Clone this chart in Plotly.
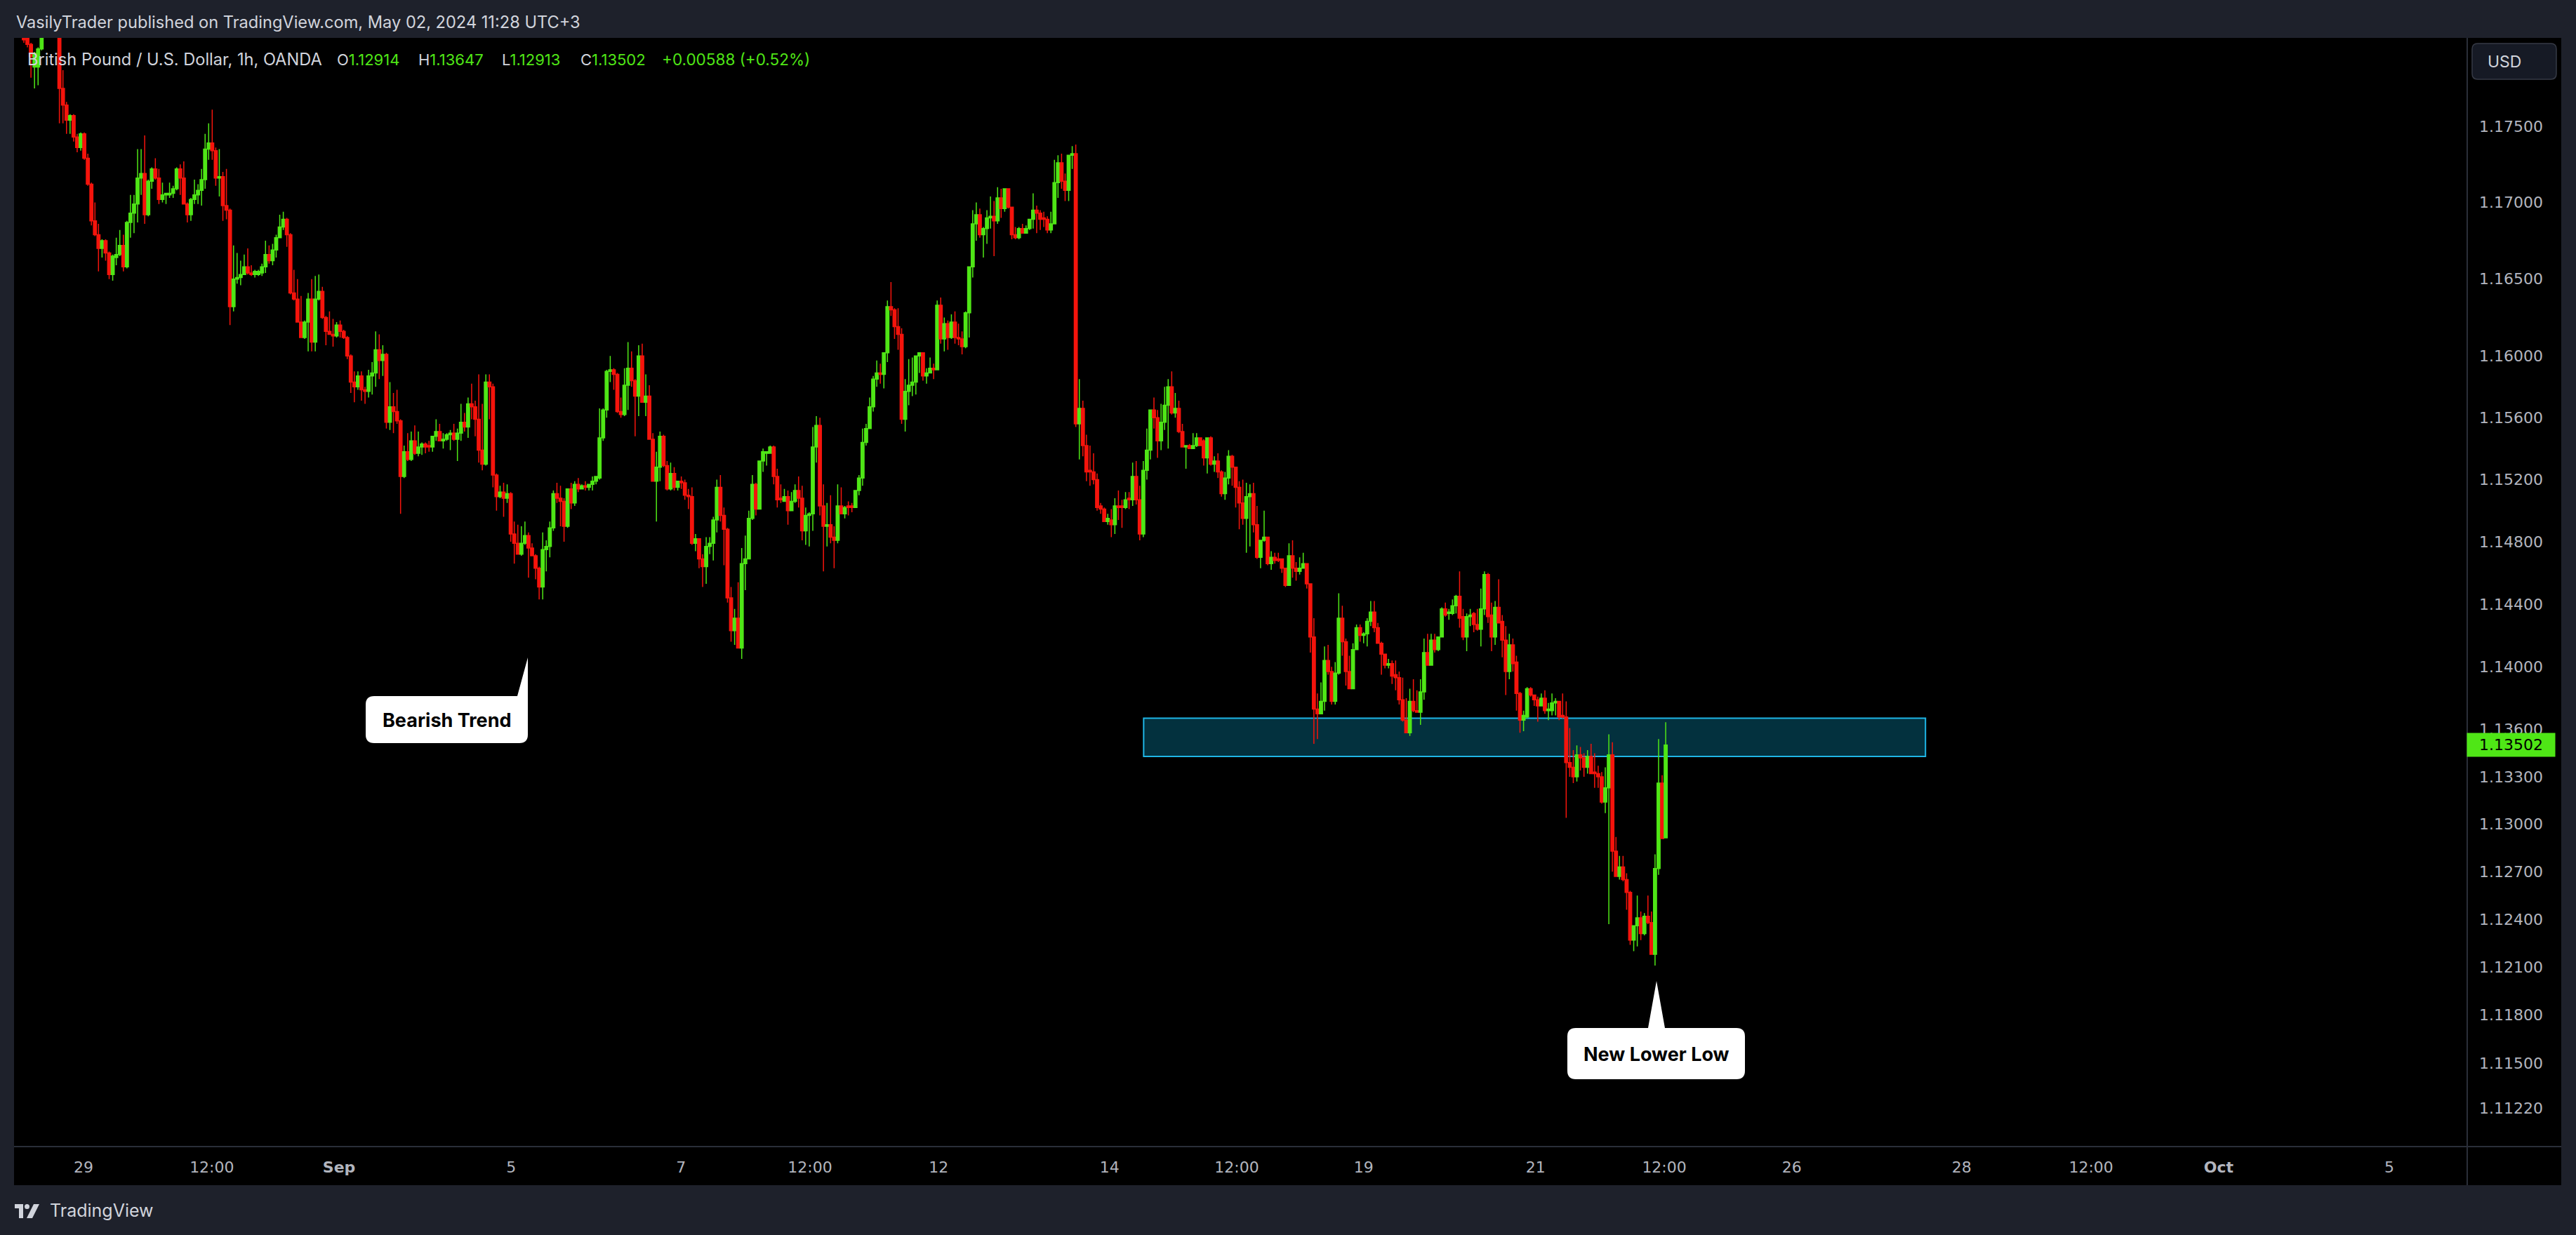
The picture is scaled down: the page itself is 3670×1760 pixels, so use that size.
import math
import plotly.graph_objects as go

# ---------------- data ----------------
opens = [
 1.1815,1.1812,1.1804,1.1789,1.1789,1.1801,1.1812,1.1822,1.1818,1.1820,
 1.1815,1.1775,1.1764,1.1754,1.1757,1.1743,1.1736,1.1745,1.1729,1.1712,
 1.1688,1.1679,1.1670,1.1675,1.1667,1.1653,1.1664,1.1666,1.1672,1.1658,
 1.1687,1.1693,1.1699,1.1716,1.1719,1.1692,1.1714,1.1722,1.1716,1.1702,
 1.1705,1.1705,1.1706,1.1709,1.1722,1.1716,1.1699,1.1692,1.1702,1.1705,
 1.1708,1.1715,1.1735,1.1739,1.1734,1.1716,1.1717,1.1698,1.1695,1.1632,
 1.1650,1.1651,1.1653,1.1658,1.1654,1.1653,1.1653,1.1654,1.1658,1.1666,
 1.1662,1.1669,1.1677,1.1684,1.1689,1.1679,1.1641,1.1637,1.1622,1.1612,
 1.1622,1.1637,1.1609,1.1637,1.1642,1.1625,1.1616,1.1614,1.1613,1.1620,
 1.1616,1.1612,1.1600,1.1583,1.1580,1.1587,1.1578,1.1577,1.1587,1.1589,
 1.1604,1.1597,1.1601,1.1557,1.1567,1.1564,1.1558,1.1522,1.1538,1.1533,
 1.1545,1.1537,1.1541,1.1543,1.1542,1.1541,1.1548,1.1551,1.1545,1.1546,
 1.1549,1.1550,1.1546,1.1550,1.1557,1.1554,1.1569,1.1567,1.1559,1.1539,
 1.1530,1.1583,1.1580,1.1523,1.1509,1.1512,1.1508,1.1511,1.1485,1.1479,
 1.1472,1.1479,1.1484,1.1476,1.1471,1.1463,1.1451,1.1475,1.1477,1.1489,
 1.1511,1.1508,1.1506,1.1490,1.1514,1.1505,1.1517,1.1514,1.1516,1.1515,
 1.1517,1.1519,1.1521,1.1547,1.1565,1.1590,1.1591,1.1588,1.1564,1.1562,
 1.1581,1.1592,1.1584,1.1574,1.1600,1.1570,1.1574,1.1546,1.1519,1.1528,
 1.1548,1.1529,1.1514,1.1524,1.1515,1.1519,1.1518,1.1510,1.1509,1.1479,
 1.1482,1.1469,1.1464,1.1477,1.1479,1.1494,1.1515,1.1497,1.1488,1.1444,
 1.1423,1.1431,1.1412,1.1466,1.1469,1.1495,1.1517,1.1501,1.1532,1.1537,
 1.1537,1.1541,1.1522,1.1508,1.1506,1.1509,1.1500,1.1506,1.1513,1.1508,
 1.1487,1.1497,1.1498,1.1541,1.1555,1.1503,1.1490,1.1491,1.1483,1.1481,
 1.1503,1.1498,1.1503,1.1503,1.1502,1.1513,1.1521,1.1544,1.1553,1.1567,
 1.1585,1.1589,1.1588,1.1602,1.1632,1.1630,1.1619,1.1614,1.1559,1.1577,
 1.1581,1.1583,1.1600,1.1602,1.1587,1.1589,1.1592,1.1591,1.1633,1.1611,
 1.1621,1.1612,1.1622,1.1612,1.1611,1.1606,1.1628,1.1658,1.1686,1.1692,
 1.1679,1.1683,1.1690,1.1691,1.1688,1.1703,1.1696,1.1709,1.1697,1.1679,
 1.1677,1.1683,1.1680,1.1683,1.1689,1.1695,1.1693,1.1690,1.1689,1.1682,
 1.1686,1.1713,1.1726,1.1714,1.1708,1.1731,1.1732,1.1556,1.1566,1.1542,
 1.1526,1.1525,1.1520,1.1503,1.1501,1.1493,1.1494,1.1491,1.1503,1.1503,
 1.1502,1.1508,1.1507,1.1522,1.1507,1.1485,1.1526,1.1539,1.1565,1.1560,
 1.1545,1.1557,1.1568,1.1580,1.1563,1.1566,1.1551,1.1541,1.1542,1.1540,
 1.1542,1.1547,1.1545,1.1534,1.1547,1.1530,1.1532,1.1525,1.1511,1.1521,
 1.1535,1.1528,1.1515,1.1505,1.1495,1.1509,1.1511,1.1491,1.1470,1.1481,
 1.1483,1.1466,1.1470,1.1469,1.1469,1.1463,1.1452,1.1471,1.1463,1.1461,
 1.1463,1.1466,1.1453,1.1419,1.1373,1.1370,1.1378,1.1404,1.1397,1.1378,
 1.1396,1.1431,1.1416,1.1397,1.1386,1.1411,1.1425,1.1420,1.1421,1.1429,
 1.1435,1.1425,1.1415,1.1408,1.1401,1.1402,1.1395,1.1393,1.1379,1.1366,
 1.1358,1.1378,1.1372,1.1371,1.1384,1.1409,1.1401,1.1417,1.1411,1.1419,
 1.1437,1.1434,1.1434,1.1439,1.1445,1.1432,1.1419,1.1432,1.1434,1.1427,
 1.1424,1.1437,1.1459,1.1433,1.1419,1.1438,1.1429,1.1417,1.1397,1.1414,
 1.1403,1.1383,1.1366,1.1368,1.1386,1.1382,1.1379,1.1375,1.1380,1.1372,
 1.1372,1.1377,1.1378,1.1369,1.1368,1.1339,1.1336,1.1330,1.1344,1.1342,
 1.1336,1.1343,1.1333,1.1332,1.1330,1.1314,1.1323,1.1344,1.1283,1.1267,
 1.1273,1.1265,1.1257,1.1227,1.1236,1.1241,1.1231,1.1242,1.1238,1.1218,
 1.1272,1.1326,1.12914,
]
highs = [
 1.1820,1.1816,1.1805,1.1799,1.1802,1.1818,1.1826,1.1830,1.1824,1.1823,
 1.1818,1.1787,1.1766,1.1758,1.1758,1.1745,1.1746,1.1746,1.1732,1.1713,
 1.1700,1.1686,1.1676,1.1676,1.1668,1.1666,1.1677,1.1682,1.1679,1.1688,
 1.1705,1.1705,1.1735,1.1735,1.1744,1.1715,1.1723,1.1729,1.1722,1.1713,
 1.1706,1.1713,1.1711,1.1723,1.1725,1.1727,1.1700,1.1703,1.1715,1.1712,
 1.1722,1.1745,1.1752,1.1761,1.1736,1.1735,1.1720,1.1722,1.1696,1.1672,
 1.1667,1.1662,1.1666,1.1670,1.1659,1.1656,1.1656,1.1660,1.1675,1.1672,
 1.1673,1.1679,1.1692,1.1694,1.1690,1.1680,1.1656,1.1650,1.1639,1.1623,
 1.1641,1.1650,1.1652,1.1653,1.1645,1.1626,1.1629,1.1624,1.1622,1.1623,
 1.1617,1.1613,1.1601,1.1590,1.1590,1.1590,1.1580,1.1591,1.1596,1.1616,
 1.1614,1.1607,1.1602,1.1583,1.1576,1.1578,1.1559,1.1542,1.1550,1.1551,
 1.1555,1.1551,1.1544,1.1544,1.1545,1.1548,1.1559,1.1556,1.1550,1.1550,
 1.1552,1.1556,1.1553,1.1569,1.1563,1.1573,1.1582,1.1571,1.1588,1.1569,
 1.1588,1.1588,1.1582,1.1524,1.1516,1.1518,1.1517,1.1512,1.1493,1.1491,
 1.1490,1.1493,1.1486,1.1479,1.1472,1.1464,1.1486,1.1481,1.1493,1.1513,
 1.1518,1.1516,1.1508,1.1514,1.1518,1.1519,1.1521,1.1517,1.1519,1.1517,
 1.1522,1.1522,1.1566,1.1566,1.1591,1.1600,1.1592,1.1589,1.1573,1.1592,
 1.1609,1.1603,1.1585,1.1607,1.1608,1.1588,1.1581,1.1550,1.1538,1.1551,
 1.1549,1.1532,1.1531,1.1528,1.1519,1.1522,1.1520,1.1514,1.1515,1.1485,
 1.1482,1.1472,1.1483,1.1483,1.1496,1.1520,1.1523,1.1502,1.1489,1.1451,
 1.1437,1.1454,1.1476,1.1484,1.1500,1.1523,1.1518,1.1532,1.1540,1.1538,
 1.1542,1.1542,1.1527,1.1517,1.1514,1.1513,1.1512,1.1517,1.1522,1.1516,
 1.1502,1.1499,1.1554,1.1561,1.1560,1.1517,1.1505,1.1510,1.1490,1.1517,
 1.1515,1.1503,1.1506,1.1505,1.1513,1.1523,1.1553,1.1556,1.1573,1.1587,
 1.1597,1.1595,1.1602,1.1636,1.1648,1.1631,1.1631,1.1618,1.1585,1.1598,
 1.1599,1.1600,1.1602,1.1602,1.1592,1.1599,1.1595,1.1636,1.1638,1.1625,
 1.1623,1.1627,1.1629,1.1621,1.1616,1.1629,1.1658,1.1695,1.1700,1.1696,
 1.1684,1.1695,1.1704,1.1701,1.1710,1.1709,1.1709,1.1709,1.1697,1.1684,
 1.1684,1.1686,1.1685,1.1689,1.1706,1.1698,1.1695,1.1694,1.1691,1.1694,
 1.1728,1.1731,1.1732,1.1719,1.1731,1.1737,1.1738,1.1585,1.1571,1.1549,
 1.1542,1.1537,1.1524,1.1505,1.1502,1.1498,1.1501,1.1508,1.1513,1.1507,
 1.1512,1.1512,1.1531,1.1532,1.1516,1.1532,1.1553,1.1565,1.1573,1.1565,
 1.1569,1.1580,1.1585,1.1590,1.1576,1.1571,1.1556,1.1542,1.1543,1.1550,
 1.1550,1.1547,1.1546,1.1547,1.1548,1.1535,1.1537,1.1526,1.1525,1.1539,
 1.1536,1.1528,1.1519,1.1520,1.1518,1.1517,1.1518,1.1503,1.1481,1.1500,
 1.1483,1.1474,1.1473,1.1473,1.1469,1.1463,1.1479,1.1481,1.1467,1.1470,
 1.1473,1.1466,1.1453,1.1431,1.1383,1.1390,1.1413,1.1414,1.1400,1.1403,
 1.1447,1.1439,1.1418,1.1407,1.1415,1.1427,1.1427,1.1422,1.1431,1.1442,
 1.1442,1.1428,1.1416,1.1408,1.1405,1.1404,1.1404,1.1397,1.1393,1.1380,
 1.1386,1.1392,1.1385,1.1392,1.1418,1.1421,1.1421,1.1421,1.1419,1.1438,
 1.1441,1.1437,1.1443,1.1446,1.1461,1.1437,1.1434,1.1437,1.1435,1.1437,
 1.1450,1.1461,1.1460,1.1441,1.1442,1.1456,1.1433,1.1426,1.1421,1.1418,
 1.1407,1.1384,1.1372,1.1387,1.1387,1.1382,1.1381,1.1383,1.1385,1.1377,
 1.1383,1.1380,1.1378,1.1383,1.1378,1.1361,1.1347,1.1350,1.1349,1.1345,
 1.1347,1.1351,1.1345,1.1337,1.1333,1.1336,1.1357,1.1352,1.1292,1.1280,
 1.1280,1.1269,1.1258,1.1236,1.1255,1.1245,1.1244,1.1255,1.1245,1.1281,
 1.1354,1.1331,1.13647,
]
lows = [
 1.1805,1.1802,1.1782,1.1775,1.1777,1.1800,1.1811,1.1815,1.1813,1.1812,
 1.1752,1.1752,1.1745,1.1745,1.1740,1.1733,1.1734,1.1728,1.1711,1.1685,
 1.1678,1.1655,1.1664,1.1662,1.1650,1.1649,1.1659,1.1665,1.1655,1.1657,
 1.1677,1.1680,1.1687,1.1705,1.1686,1.1691,1.1709,1.1715,1.1699,1.1700,
 1.1699,1.1703,1.1703,1.1708,1.1705,1.1699,1.1687,1.1688,1.1699,1.1699,
 1.1698,1.1709,1.1728,1.1728,1.1711,1.1704,1.1688,1.1689,1.1620,1.1629,
 1.1647,1.1646,1.1653,1.1653,1.1652,1.1651,1.1652,1.1652,1.1654,1.1660,
 1.1659,1.1664,1.1677,1.1682,1.1671,1.1640,1.1636,1.1622,1.1612,1.1611,
 1.1603,1.1603,1.1603,1.1636,1.1624,1.1607,1.1614,1.1606,1.1612,1.1612,
 1.1611,1.1598,1.1576,1.1570,1.1578,1.1571,1.1569,1.1573,1.1575,1.1580,
 1.1585,1.1587,1.1553,1.1552,1.1550,1.1556,1.1498,1.1521,1.1532,1.1532,
 1.1536,1.1535,1.1536,1.1537,1.1538,1.1538,1.1545,1.1545,1.1540,1.1545,
 1.1539,1.1545,1.1532,1.1545,1.1551,1.1547,1.1559,1.1548,1.1531,1.1526,
 1.1529,1.1559,1.1515,1.1500,1.1508,1.1496,1.1505,1.1480,1.1466,1.1472,
 1.1471,1.1478,1.1457,1.1471,1.1456,1.1443,1.1443,1.1461,1.1470,1.1487,
 1.1505,1.1490,1.1480,1.1489,1.1501,1.1503,1.1512,1.1514,1.1513,1.1513,
 1.1513,1.1517,1.1520,1.1545,1.1560,1.1583,1.1578,1.1563,1.1560,1.1561,
 1.1565,1.1580,1.1548,1.1561,1.1570,1.1561,1.1546,1.1519,1.1493,1.1519,
 1.1528,1.1513,1.1513,1.1513,1.1513,1.1514,1.1507,1.1501,1.1478,1.1474,
 1.1463,1.1451,1.1453,1.1472,1.1468,1.1486,1.1493,1.1465,1.1441,1.1416,
 1.1414,1.1412,1.1405,1.1449,1.1469,1.1494,1.1497,1.1501,1.1525,1.1529,
 1.1537,1.1517,1.1502,1.1505,1.1506,1.1491,1.1500,1.1505,1.1502,1.1481,
 1.1478,1.1477,1.1487,1.1531,1.1497,1.1461,1.1477,1.1479,1.1463,1.1479,
 1.1498,1.1495,1.1497,1.1499,1.1502,1.1510,1.1516,1.1542,1.1553,1.1564,
 1.1580,1.1582,1.1579,1.1596,1.1626,1.1611,1.1604,1.1556,1.1551,1.1568,
 1.1574,1.1575,1.1589,1.1584,1.1582,1.1589,1.1585,1.1591,1.1608,1.1603,
 1.1604,1.1611,1.1608,1.1607,1.1601,1.1605,1.1612,1.1651,1.1675,1.1677,
 1.1664,1.1673,1.1683,1.1665,1.1686,1.1690,1.1694,1.1696,1.1676,1.1676,
 1.1676,1.1680,1.1680,1.1682,1.1683,1.1680,1.1682,1.1684,1.1680,1.1680,
 1.1686,1.1703,1.1709,1.1701,1.1701,1.1722,1.1554,1.1533,1.1535,1.1519,
 1.1516,1.1517,1.1500,1.1498,1.1493,1.1491,1.1483,1.1485,1.1494,1.1489,
 1.1501,1.1501,1.1503,1.1504,1.1481,1.1483,1.1520,1.1533,1.1553,1.1534,
 1.1539,1.1552,1.1540,1.1562,1.1560,1.1550,1.1541,1.1527,1.1540,1.1540,
 1.1541,1.1542,1.1529,1.1524,1.1529,1.1525,1.1521,1.1509,1.1507,1.1517,
 1.1516,1.1502,1.1488,1.1491,1.1473,1.1477,1.1486,1.1469,1.1463,1.1480,
 1.1465,1.1462,1.1466,1.1467,1.1460,1.1451,1.1452,1.1457,1.1455,1.1459,
 1.1463,1.1450,1.1409,1.1351,1.1354,1.1370,1.1372,1.1395,1.1376,1.1376,
 1.1395,1.1407,1.1388,1.1386,1.1386,1.1411,1.1416,1.1415,1.1413,1.1426,
 1.1422,1.1415,1.1395,1.1399,1.1399,1.1389,1.1385,1.1376,1.1365,1.1358,
 1.1356,1.1371,1.1371,1.1363,1.1379,1.1401,1.1401,1.1409,1.1410,1.1419,
 1.1432,1.1430,1.1433,1.1434,1.1425,1.1417,1.1410,1.1426,1.1422,1.1423,
 1.1413,1.1433,1.1428,1.1410,1.1414,1.1428,1.1406,1.1382,1.1392,1.1397,
 1.1372,1.1358,1.1359,1.1367,1.1381,1.1375,1.1365,1.1375,1.1370,1.1366,
 1.1369,1.1369,1.1366,1.1367,1.1304,1.1330,1.1326,1.1327,1.1334,1.1330,
 1.1332,1.1332,1.1323,1.1323,1.1313,1.1307,1.1237,1.1270,1.1267,1.1265,
 1.1264,1.1246,1.1224,1.1220,1.1223,1.1227,1.1230,1.1237,1.1218,1.1211,
 1.1268,1.1291,1.12913,
]
closes = [
 1.1807,1.1804,1.1796,1.1798,1.1801,1.1812,1.1822,1.1818,1.1820,1.1815,
 1.1775,1.1764,1.1754,1.1757,1.1743,1.1736,1.1745,1.1729,1.1712,1.1688,
 1.1679,1.1670,1.1675,1.1667,1.1653,1.1665,1.1666,1.1672,1.1658,1.1687,
 1.1693,1.1699,1.1716,1.1719,1.1692,1.1714,1.1722,1.1716,1.1702,1.1705,
 1.1706,1.1706,1.1709,1.1722,1.1716,1.1699,1.1692,1.1702,1.1705,1.1708,
 1.1715,1.1735,1.1739,1.1734,1.1716,1.1717,1.1698,1.1695,1.1632,1.1650,
 1.1651,1.1653,1.1658,1.1654,1.1653,1.1655,1.1655,1.1658,1.1666,1.1662,
 1.1669,1.1677,1.1684,1.1689,1.1679,1.1641,1.1637,1.1622,1.1612,1.1622,
 1.1637,1.1609,1.1637,1.1642,1.1625,1.1616,1.1614,1.1613,1.1620,1.1616,
 1.1612,1.1600,1.1583,1.1580,1.1587,1.1578,1.1577,1.1587,1.1589,1.1604,
 1.1597,1.1601,1.1557,1.1567,1.1564,1.1558,1.1522,1.1538,1.1533,1.1545,
 1.1537,1.1541,1.1543,1.1541,1.1541,1.1548,1.1551,1.1545,1.1546,1.1549,
 1.1550,1.1546,1.1550,1.1557,1.1554,1.1569,1.1567,1.1559,1.1539,1.1530,
 1.1583,1.1580,1.1523,1.1509,1.1512,1.1508,1.1511,1.1485,1.1479,1.1472,
 1.1479,1.1484,1.1476,1.1471,1.1463,1.1451,1.1475,1.1477,1.1489,1.1511,
 1.1508,1.1506,1.1490,1.1514,1.1505,1.1517,1.1514,1.1516,1.1515,1.1517,
 1.1519,1.1522,1.1547,1.1565,1.1590,1.1591,1.1588,1.1564,1.1562,1.1581,
 1.1592,1.1584,1.1574,1.1600,1.1570,1.1574,1.1546,1.1519,1.1528,1.1548,
 1.1529,1.1514,1.1524,1.1515,1.1519,1.1518,1.1510,1.1509,1.1479,1.1482,
 1.1469,1.1464,1.1477,1.1479,1.1494,1.1515,1.1497,1.1488,1.1444,1.1423,
 1.1431,1.1412,1.1466,1.1469,1.1495,1.1517,1.1501,1.1532,1.1538,1.1538,
 1.1541,1.1522,1.1507,1.1507,1.1509,1.1500,1.1506,1.1513,1.1508,1.1487,
 1.1497,1.1498,1.1541,1.1555,1.1503,1.1490,1.1491,1.1483,1.1481,1.1503,
 1.1498,1.1502,1.1502,1.1502,1.1513,1.1521,1.1544,1.1553,1.1567,1.1585,
 1.1589,1.1588,1.1602,1.1632,1.1630,1.1619,1.1614,1.1559,1.1577,1.1581,
 1.1583,1.1600,1.1602,1.1587,1.1589,1.1592,1.1591,1.1633,1.1611,1.1621,
 1.1612,1.1622,1.1612,1.1611,1.1606,1.1628,1.1658,1.1686,1.1692,1.1679,
 1.1683,1.1690,1.1691,1.1688,1.1703,1.1696,1.1709,1.1697,1.1679,1.1677,
 1.1683,1.1680,1.1683,1.1689,1.1695,1.1693,1.1689,1.1689,1.1682,1.1686,
 1.1713,1.1726,1.1714,1.1708,1.1731,1.1732,1.1556,1.1566,1.1542,1.1525,
 1.1525,1.1520,1.1502,1.1501,1.1493,1.1495,1.1491,1.1503,1.1502,1.1502,
 1.1507,1.1507,1.1522,1.1507,1.1485,1.1526,1.1539,1.1565,1.1560,1.1545,
 1.1557,1.1568,1.1580,1.1563,1.1566,1.1551,1.1541,1.1542,1.1540,1.1542,
 1.1547,1.1542,1.1534,1.1547,1.1530,1.1532,1.1525,1.1511,1.1521,1.1535,
 1.1528,1.1515,1.1505,1.1495,1.1509,1.1511,1.1491,1.1470,1.1481,1.1483,
 1.1466,1.1470,1.1468,1.1468,1.1463,1.1452,1.1471,1.1463,1.1461,1.1463,
 1.1466,1.1453,1.1419,1.1373,1.1370,1.1378,1.1404,1.1397,1.1378,1.1396,
 1.1431,1.1416,1.1397,1.1386,1.1411,1.1425,1.1420,1.1421,1.1429,1.1435,
 1.1425,1.1415,1.1408,1.1401,1.1402,1.1394,1.1393,1.1379,1.1366,1.1358,
 1.1378,1.1372,1.1371,1.1384,1.1409,1.1401,1.1417,1.1411,1.1419,1.1437,
 1.1433,1.1435,1.1439,1.1445,1.1431,1.1419,1.1432,1.1433,1.1427,1.1424,
 1.1437,1.1459,1.1432,1.1419,1.1438,1.1428,1.1417,1.1397,1.1414,1.1402,
 1.1383,1.1366,1.1369,1.1386,1.1382,1.1379,1.1375,1.1380,1.1372,1.1373,
 1.1377,1.1378,1.1368,1.1368,1.1339,1.1336,1.1330,1.1344,1.1342,1.1336,
 1.1343,1.1332,1.1332,1.1330,1.1314,1.1323,1.1344,1.1283,1.1267,1.1273,
 1.1265,1.1257,1.1227,1.1236,1.1241,1.1231,1.1242,1.1238,1.1218,1.1272,
 1.1326,1.1291,1.13502,
]

price_ticks = [1.175, 1.17, 1.165, 1.16, 1.156, 1.152, 1.148, 1.144, 1.14,
               1.136, 1.133, 1.13, 1.127, 1.124, 1.121, 1.118, 1.115, 1.1122]
time_tick_bars = [16.8, 52.9, 88.7, 137.1, 184.9, 221.2, 257.4, 305.5, 341.3,
                  377.0, 425.4, 461.6, 497.5, 545.3, 581.7, 617.6, 665.6]
time_tick_labels = ["29", "12:00", "<b>Sep</b>", "5", "7", "12:00", "12", "14", "12:00",
                    "19", "21", "12:00", "26", "28", "12:00", "<b>Oct</b>", "5"]
zone_top = 1.13672
zone_bottom = 1.13430
zone_start_bar = 315.1
zone_end_bar = 535.1

# ---------------- styling ----------------
W, H = 3670, 1760
PL, PR, PT, PB = 20, 3515, 54, 1634      # plot area in pixels
FRAME = "#1e212b"
GREEN = "#4fe616"
RED = "#f5140c"
AXIS_TXT = "#b2b5be"
LIGHT_TXT = "#d1d4dc"
SEP = "#2a2e39"
FONT = "Inter, Roboto, sans-serif"
AXIS_FONT = "DejaVu Sans, Inter, sans-serif"


def px_x(x):
    return (x - PL) / (PR - PL)


def px_y(y):
    return (PB - y) / (PB - PT)


def P(x, y):
    return f"{px_x(x):.6f},{px_y(y):.6f}"


bars = list(range(len(closes)))

fig = go.Figure(go.Candlestick(
    x=bars, open=opens, high=highs, low=lows, close=closes,
    increasing=dict(line=dict(color=GREEN, width=1.5), fillcolor=GREEN),
    decreasing=dict(line=dict(color=RED, width=1.5), fillcolor=RED),
    whiskerwidth=0, hoverinfo="skip", showlegend=False,
))

shapes = []
# frame around the chart
for (x0, y0, x1, y1) in [(0, 0, W, PT), (0, PT, PL, 1689), (3649, PT, W, 1689), (0, 1689, W, H)]:
    shapes.append(dict(type="rect", xref="paper", yref="paper",
                       x0=px_x(x0), x1=px_x(x1), y0=px_y(y1), y1=px_y(y0),
                       fillcolor=FRAME, line=dict(width=0), layer="below"))
# separators
shapes.append(dict(type="line", xref="paper", yref="paper", x0=px_x(PR), x1=px_x(PR),
                   y0=px_y(1689), y1=px_y(PT), line=dict(color=SEP, width=2)))
shapes.append(dict(type="line", xref="paper", yref="paper", x0=px_x(PL), x1=px_x(3649),
                   y0=px_y(PB), y1=px_y(PB), line=dict(color=SEP, width=2)))

# support zone (shape positions on a log axis are given in data values)
shapes.append(dict(type="rect", xref="x", yref="y", x0=zone_start_bar, x1=zone_end_bar,
                   y0=zone_bottom, y1=zone_top,
                   fillcolor="#03313e", line=dict(color="#1fb6e6", width=2), layer="below"))

# "Bearish Trend" callout
x0, y0, x1, y1, r = 521, 992, 752, 1059, 12
path = (f"M {P(x0 + r, y0)} L {P(737, y0)} L {P(752, 937)} L {P(x1, y1 - r)} "
        f"Q {P(x1, y1)} {P(x1 - r, y1)} L {P(x0 + r, y1)} Q {P(x0, y1)} {P(x0, y1 - r)} "
        f"L {P(x0, y0 + r)} Q {P(x0, y0)} {P(x0 + r, y0)} Z")
shapes.append(dict(type="path", xref="paper", yref="paper", path=path,
                   fillcolor="#ffffff", line=dict(width=0)))

# "New Lower Low" callout
x0, y0, x1, y1, r = 2233, 1465, 2486, 1538, 12
path = (f"M {P(x0 + r, y0)} L {P(2348, y0)} L {P(2360, 1398)} L {P(2372, y0)} "
        f"L {P(x1 - r, y0)} Q {P(x1, y0)} {P(x1, y0 + r)} L {P(x1, y1 - r)} "
        f"Q {P(x1, y1)} {P(x1 - r, y1)} L {P(x0 + r, y1)} Q {P(x0, y1)} {P(x0, y1 - r)} "
        f"L {P(x0, y0 + r)} Q {P(x0, y0)} {P(x0 + r, y0)} Z")
shapes.append(dict(type="path", xref="paper", yref="paper", path=path,
                   fillcolor="#ffffff", line=dict(width=0)))

# USD button
x0, y0, x1, y1, r = 3522, 62, 3642, 113, 8
path = (f"M {P(x0 + r, y0)} L {P(x1 - r, y0)} Q {P(x1, y0)} {P(x1, y0 + r)} "
        f"L {P(x1, y1 - r)} Q {P(x1, y1)} {P(x1 - r, y1)} L {P(x0 + r, y1)} "
        f"Q {P(x0, y1)} {P(x0, y1 - r)} L {P(x0, y0 + r)} Q {P(x0, y0)} {P(x0 + r, y0)} Z")
shapes.append(dict(type="path", xref="paper", yref="paper", path=path,
                   fillcolor="#161a25", line=dict(color="#363a45", width=1.5)))

# TradingView logo (simplified)
shapes.append(dict(type="path", xref="paper", yref="paper",
                   path=f"M {P(21, 1716)} L {P(33, 1716)} L {P(33, 1736)} L {P(27, 1736)} L {P(27, 1722)} L {P(21, 1722)} Z",
                   fillcolor=LIGHT_TXT, line=dict(width=0)))
shapes.append(dict(type="circle", xref="paper", yref="paper",
                   x0=px_x(35), x1=px_x(42), y0=px_y(1723), y1=px_y(1716),
                   fillcolor=LIGHT_TXT, line=dict(width=0)))
shapes.append(dict(type="path", xref="paper", yref="paper",
                   path=f"M {P(48, 1716)} L {P(56, 1716)} L {P(46, 1736)} L {P(38, 1736)} Z",
                   fillcolor=LIGHT_TXT, line=dict(width=0)))

ann = []
ann.append(dict(xref="paper", yref="paper", x=px_x(21), y=px_y(32), xanchor="left", yanchor="middle",
                text="VasilyTrader published on TradingView.com, May 02, 2024 11:28 UTC+3",
                showarrow=False, font=dict(family=FONT, size=23.6, color=LIGHT_TXT)))

o, h, l, c = opens[-1], highs[-1], lows[-1], closes[-1]
chg = c - o
legend_parts = [
    (37, "British Pound / U.S. Dollar, 1h, OANDA", 23.6),
    (478, f"O<span style='color:{GREEN}'>{o:.5f}</span>", 22),
    (594, f"H<span style='color:{GREEN}'>{h:.5f}</span>", 22),
    (713, f"L<span style='color:{GREEN}'>{l:.5f}</span>", 22),
    (825, f"C<span style='color:{GREEN}'>{c:.5f}</span>", 22),
    (941, f"<span style='color:{GREEN}'>{chg:+.5f} ({chg / o * 100:+.2f}%)</span>", 22.5),
]
for xp, t, fs in legend_parts:
    ann.append(dict(xref="paper", yref="paper", x=px_x(xp), y=px_y(85), xanchor="left", yanchor="middle",
                    text=t, showarrow=False, font=dict(family=FONT, size=fs, color=LIGHT_TXT)))

ann.append(dict(xref="paper", yref="paper", x=px_x(636.5), y=px_y(1026), xanchor="center", yanchor="middle",
                text="<b>Bearish Trend</b>", showarrow=False, font=dict(family=FONT, size=27, color="#000000")))
ann.append(dict(xref="paper", yref="paper", x=px_x(2359.5), y=px_y(1502), xanchor="center", yanchor="middle",
                text="<b>New Lower Low</b>", showarrow=False, font=dict(family=FONT, size=27, color="#000000")))
ann.append(dict(xref="paper", yref="paper", x=px_x(3542), y=px_y(87.5), xanchor="left", yanchor="middle",
                text="USD", showarrow=False, font=dict(family=FONT, size=23, color=LIGHT_TXT)))
ann.append(dict(xref="paper", yref="paper", x=px_x(69), y=px_y(1725), xanchor="left", yanchor="middle",
                text="TradingView", showarrow=False, font=dict(family=FONT, size=25, color=LIGHT_TXT)))
# last price label
ann.append(dict(xref="paper", yref="y", x=px_x(3514), y=math.log10(c), xanchor="left", yanchor="middle",
                text=f"{c:.5f}", showarrow=False, bgcolor=GREEN, width=119, height=27, borderpad=3,
                align="center", font=dict(family=AXIS_FONT, size=22, color="#000000")))

fig.update_layout(
    width=W, height=H,
    margin=dict(l=PL, r=W - PR, t=PT, b=H - PB, pad=0),
    paper_bgcolor="#000000", plot_bgcolor="#000000",
    showlegend=False, boxgap=0.1, boxgroupgap=0.05,
    xaxis=dict(range=[(PL - 34) / 5.063, (PR - 34) / 5.063], rangeslider=dict(visible=False),
               showgrid=False, zeroline=False, showline=False, ticks="",
               tickmode="array", tickvals=time_tick_bars, ticktext=time_tick_labels,
               tickfont=dict(family=AXIS_FONT, size=22, color=AXIS_TXT), ticklabelstandoff=14,
               fixedrange=True),
    yaxis=dict(type="log", range=[0.0452452, 0.0721865], side="right",
               showgrid=False, zeroline=False, showline=False, ticks="",
               tickmode="array", tickvals=price_ticks, ticktext=[f"{v:.5f}" for v in price_ticks],
               tickfont=dict(family=AXIS_FONT, size=22, color=AXIS_TXT), ticklabelstandoff=16,
               fixedrange=True),
    shapes=shapes, annotations=ann,
)

fig.write_html("out.html", include_plotlyjs=True, full_html=True,
               config=dict(displayModeBar=False),
               post_script="document.body.style.margin='0';document.body.style.overflow='hidden';")
